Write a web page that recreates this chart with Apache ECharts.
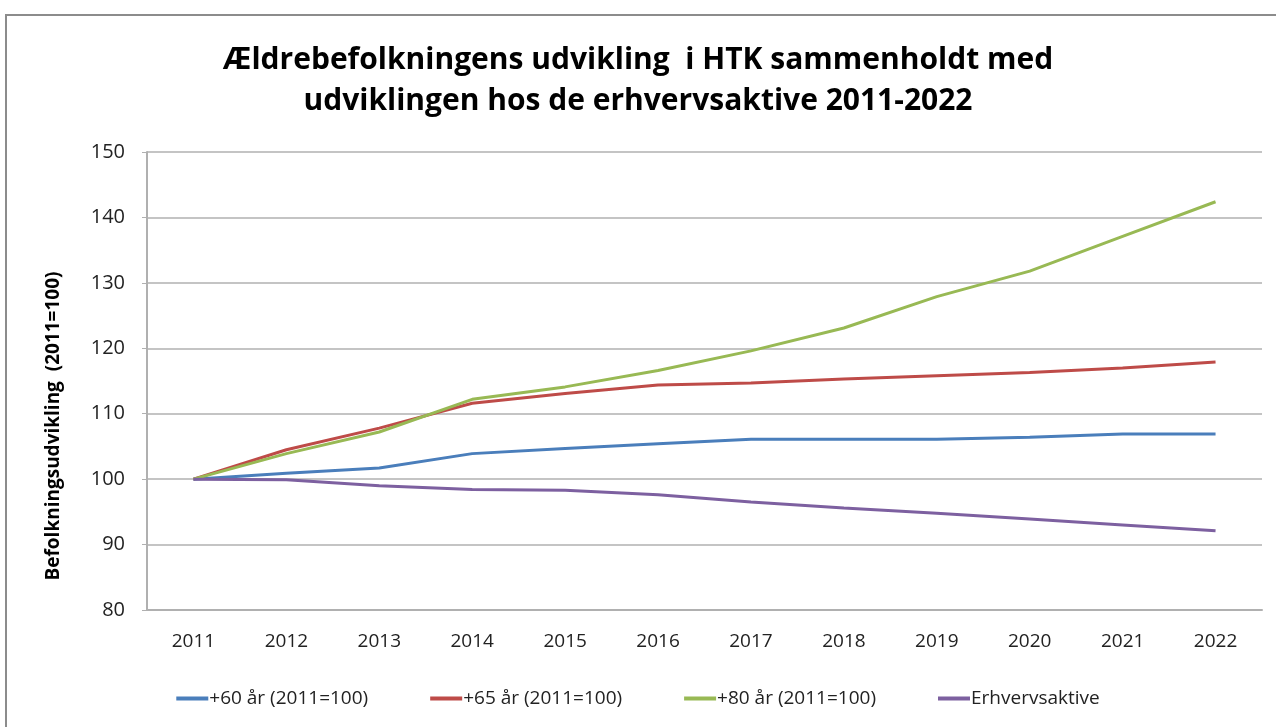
<!DOCTYPE html>
<html>
<head>
<meta charset="utf-8">
<script src="https://cdn.jsdelivr.net/npm/echarts@6/dist/echarts.min.js"></script>
<style>
  html, body { margin: 0; padding: 0; background: #fff; }
  #frame {
    position: absolute; left: 5px; top: 14px; width: 1280px; height: 720px;
    border-left: 2px solid #8c8c8c; border-top: 2px solid #8c8c8c;
  }
  #chart { position: absolute; left: 0; top: 0; width: 1276px; height: 727px; }
</style>
</head>
<body>
<div id="frame"></div>
<div id="chart"></div>
<script>
const years = ['2011', '2012', '2013', '2014', '2015', '2016', '2017', '2018', '2019', '2020', '2021', '2022']
const plus60 = [100, 100.9, 101.7, 103.9, 104.7, 105.4, 106.1, 106.1, 106.1, 106.4, 106.9, 106.9]
const plus65 = [100, 104.5, 107.8, 111.6, 113.1, 114.4, 114.7, 115.3, 115.8, 116.3, 117.0, 117.9]
const plus80 = [100, 103.9, 107.2, 112.2, 114.1, 116.6, 119.6, 123.1, 127.9, 131.8, 137.1, 142.4]
const erhverv = [100, 99.9, 99.0, 98.4, 98.3, 97.6, 96.5, 95.6, 94.8, 93.9, 93.0, 92.1]

const font = '"Open Sans", sans-serif'
const myChart = echarts.init(document.getElementById('chart'))

const makeLine = (name, data, color) => ({
  name: name,
  type: 'line',
  data: data,
  symbol: 'none',
  lineStyle: { color: color, width: 3 },
  itemStyle: { color: color },
  z: 3
})

const option = {
  animation: false,
  title: {
    text: 'Ældrebefolkningens udvikling  i HTK sammenholdt med\nudviklingen hos de erhvervsaktive 2011-2022',
    left: 'center',
    top: 35,
    textStyle: { fontFamily: font, fontSize: 30, fontWeight: 'bold', color: '#000', lineHeight: 41 }
  },
  legend: {
    bottom: 14,
    left: 'center',
    itemWidth: 32,
    itemHeight: 4,
    itemGap: 62,
    icon: 'rect',
    textStyle: { fontFamily: font, fontSize: 19, color: '#222', padding: [0, 0, 0, -4] },
    data: ['+60 år (2011=100)', '+65 år (2011=100)', '+80 år (2011=100)', 'Erhvervsaktive']
  },
  grid: { left: 147, right: 14, top: 152, bottom: 117 },
  xAxis: {
    type: 'category',
    data: years,
    boundaryGap: true,
    axisLine: { lineStyle: { color: '#b0b0b0', width: 2 } },
    axisTick: { show: false },
    axisLabel: { fontFamily: font, fontSize: 19, color: '#222', margin: 22 }
  },
  yAxis: {
    type: 'value',
    min: 80,
    max: 150,
    interval: 10,
    name: 'Befolkningsudvikling  (2011=100)',
    nameLocation: 'middle',
    nameGap: 84,
    nameTextStyle: { fontFamily: font, fontSize: 19, fontWeight: 'bold', color: '#000', padding: [0, 90, 0, 0] },
    axisLine: { show: true, lineStyle: { color: '#b0b0b0', width: 2 } },
    axisTick: { show: true, length: 5, lineStyle: { color: '#b0b0b0' } },
    axisLabel: { fontFamily: font, fontSize: 20, color: '#222', margin: 22 },
    splitLine: { lineStyle: { color: '#c4c4c4', width: 2 } }
  },
  series: [
    makeLine('+60 år (2011=100)', plus60, '#4a7ebb'),
    makeLine('+65 år (2011=100)', plus65, '#be4b48'),
    makeLine('+80 år (2011=100)', plus80, '#98b954'),
    makeLine('Erhvervsaktive', erhverv, '#7d60a0')
  ]
}

myChart.setOption(option)
</script>
</body>
</html>
